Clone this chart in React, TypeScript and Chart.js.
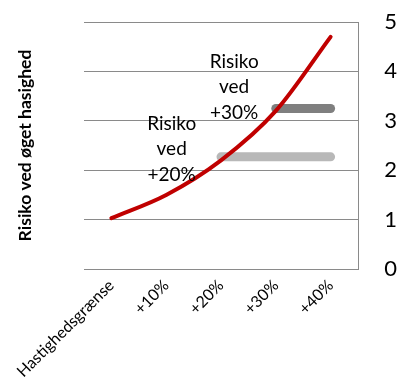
import React, { useEffect, useRef } from "react";
import { Chart, registerables } from "chart.js";

Chart.register(...registerables);

const categories = ["Hastighedsgrænse", "+10%", "+20%", "+30%", "+40%"];
const riskCurve = [1.03, 1.5, 2.2, 3.2, 4.7];
const risk20 = [null, null, 2.27, 2.27, 2.27];
const risk30 = [null, null, null, 3.25, 3.25];
const yTicks = [0, 1, 2, 3, 4, 5];
const yTitle = "Risiko ved øget hasighed";
const note20 = ["Risiko", "ved", "+20%"];
const note30 = ["Risiko", "ved", "+30%"];

const FONT = "Lato, 'Open Sans', sans-serif";

const notes = [
  { lines: note20, at: [1.1, 2.43] },
  { lines: note30, at: [2.24, 3.68] },
];

const notePlugin = {
  id: "notes",
  afterDatasetsDraw(chart: any) {
    const { ctx, scales } = chart;
    ctx.save();
    ctx.font = `19px ${FONT}`;
    ctx.fillStyle = "#000";
    ctx.textAlign = "center";
    ctx.textBaseline = "middle";
    for (const n of notes) {
      const cx = scales.x.getPixelForValue(n.at[0]);
      const cy = scales.y.getPixelForValue(n.at[1]);
      const lh = 25.5;
      n.lines.forEach((t, i) => {
        ctx.fillText(t, cx, cy + (i - 1) * lh);
      });
    }
    ctx.restore();
  },
};

export default function App() {
  const ref = useRef<HTMLCanvasElement>(null);
  useEffect(() => {
    if (!ref.current) return;
    const chart = new Chart(ref.current, {
      type: "line",
      data: {
        labels: categories,
        datasets: [
          {
            data: riskCurve,
            borderColor: "#c00000",
            borderWidth: 4,
            cubicInterpolationMode: "monotone",
            pointRadius: 0,
            borderCapStyle: "round",
          },
          {
            data: risk30,
            borderColor: "#7f7f7f",
            borderWidth: 9,
            borderCapStyle: "round",
            pointRadius: 0,
            tension: 0,
          },
          {
            data: risk20,
            borderColor: "#b8b8b8",
            borderWidth: 9,
            borderCapStyle: "round",
            pointRadius: 0,
            tension: 0,
          },
        ],
      },
      options: {
        responsive: false,
        animation: false,
        layout: { padding: { top: 22, right: 3, bottom: 0, left: 13.6 } },
        plugins: { legend: { display: false }, tooltip: { enabled: false } },
        scales: {
          x: {
            offset: true,
            grid: { display: false },
            border: { display: false },
            afterFit: (s: any) => {
              s.height = 114;
              s.paddingLeft = 0;
            },
            ticks: {
              maxRotation: 45,
              minRotation: 45,
              color: "#000",
              font: { family: FONT, size: 16 },
              padding: -1,
            },
          },
          y: {
            position: "right",
            min: 0,
            max: 5,
            afterBuildTicks: (s: any) => {
              s.ticks = yTicks.map((v) => ({ value: v }));
            },
            afterFit: (s: any) => {
              s.width = 39;
            },
            grid: { color: "#8a8a8a", drawTicks: false, lineWidth: 1 },
            border: { display: true, color: "#8a8a8a" },
            ticks: {
              color: "#000",
              padding: 4,
              crossAlign: "far",
              font: { family: FONT, size: 22 },
            },
          },
          yt: {
            position: "left",
            min: 0,
            max: 5,
            grid: { display: false, drawTicks: false },
            border: { display: false },
            ticks: { display: false },
            title: {
              display: true,
              text: yTitle,
              color: "#000",
              font: { family: FONT, size: 17.5, weight: "bold" },
              padding: { top: 0.9, bottom: 48.5 },
            },
          },
        },
      },
      plugins: [notePlugin],
    });
    return () => chart.destroy();
  }, []);
  return (
    <div style={{ position: "absolute", left: 0, top: 0, width: 400, height: 383 }}>
      <canvas ref={ref} width={400} height={383} />
    </div>
  );
}
